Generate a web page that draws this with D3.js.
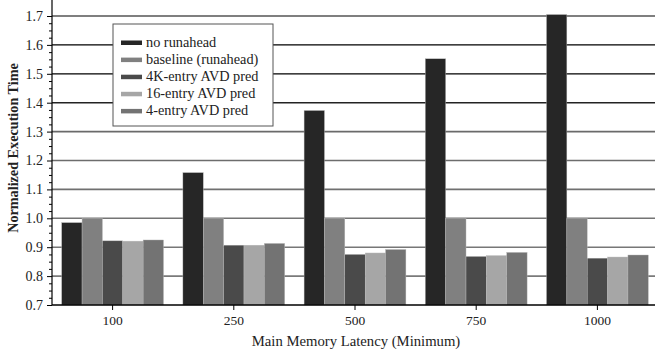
<!DOCTYPE html>
<html><head><meta charset="utf-8">
<script src="https://cdn.jsdelivr.net/npm/d3@7"></script>
<style>body{margin:0;background:#fff}</style>
</head><body><svg id="c" width="655" height="350"></svg>
<script>
const categories = ["100","250","500","750","1000"];
const seriesNames = ["no runahead","baseline (runahead)","4K-entry AVD pred","16-entry AVD pred","4-entry AVD pred"];
const noRunahead = [0.985,1.158,1.373,1.552,1.705];
const baseline = [1.0,1.0,1.0,1.0,1.0];
const avd4K = [0.922,0.907,0.875,0.868,0.862];
const avd16 = [0.921,0.907,0.880,0.871,0.866];
const avd4 = [0.925,0.913,0.892,0.882,0.873];
const yTicks = [0.7,0.8,0.9,1.0,1.1,1.2,1.3,1.4,1.5,1.6,1.7];
const colors = ["#262626","#808080","#4a4a4a","#a6a6a6","#737373"];
const series = [noRunahead, baseline, avd4K, avd16, avd4];

const svg = d3.select("#c");
const font = "'Liberation Serif', 'Times New Roman', serif";
const L = 52, R = 658, B = 305;
const x = d3.scaleBand().domain(categories).range([L, R]).paddingInner(0.16).paddingOuter(0.08);
const xs = d3.scaleBand().domain(d3.range(5)).range([0, x.bandwidth()]);
const y = d3.scaleLinear().domain([0.7, 1.7]).range([B, 16]);

// gridlines
const gcol = d3.scaleLinear().domain([0.8, 1.3, 1.45]).range(["#7a7a7a", "#6a6a6a", "#000"]);
svg.append("g").selectAll("line").data(yTicks.filter(d => d > 0.7)).join("line")
  .attr("x1", L).attr("x2", 655).attr("y1", d => y(d)).attr("y2", d => y(d))
  .attr("stroke", d => gcol(d)).attr("stroke-width", d => d > 1.45 ? 1.2 : 1.6);

// bars
const g = svg.append("g");
categories.forEach((c, i) => {
  series.forEach((s, j) => {
    g.append("rect").attr("x", x(c) + xs(j)).attr("width", xs.bandwidth())
      .attr("y", y(s[i])).attr("height", B - y(s[i]))
      .attr("fill", colors[j]).attr("stroke", "#bbb").attr("stroke-width", 0.4);
  });
});

// y axis
const yAxis = svg.append("g").attr("transform", `translate(${L},0)`)
  .call(d3.axisLeft(y).tickValues(yTicks).tickFormat(d3.format(".1f")).tickSizeOuter(0).tickSize(5));
yAxis.select(".domain").remove();
yAxis.selectAll("text").style("font-family", font).style("font-size", "14px").attr("fill", "#222").attr("x", -9);
svg.append("g").attr("transform", `translate(${L},0)`)
  .call(d3.axisLeft(y).tickValues(d3.range(0.725, 1.7, 0.025).filter(v => Math.abs(v*10 - Math.round(v*10)) > 0.01)).tickSize(3).tickFormat(""))
  .select(".domain").remove();
svg.append("line").attr("x1", L).attr("x2", L).attr("y1", 0).attr("y2", B).attr("stroke", "#000").attr("stroke-width", 1.2);

// x axis
const xAxis = svg.append("g").attr("transform", `translate(0,${B})`)
  .call(d3.axisBottom(x).tickSize(5).tickSizeOuter(0));
xAxis.select(".domain").attr("stroke-width", 1.4).attr("d", `M${L},0H655`);
xAxis.selectAll("text").style("font-family", font).style("font-size", "13.5px").attr("fill", "#222").attr("y", 10).attr("dy", "0.71em");

// titles
svg.append("text").attr("transform", "translate(18,148) rotate(-90)").attr("text-anchor", "middle")
  .style("font-family", font).style("font-weight", "bold").style("font-size", "14.2px").attr("fill", "#222")
  .text("Normalized Execution Time");
svg.append("text").attr("x", 356).attr("y", 346).attr("text-anchor", "middle")
  .style("font-family", font).style("font-size", "14.7px").attr("fill", "#222")
  .text("Main Memory Latency (Minimum)");

// legend
const lg = svg.append("g").attr("transform", "translate(113,24)");
lg.append("rect").attr("width", 160).attr("height", 102).attr("fill", "#fff").attr("stroke", "#555").attr("stroke-width", 1);
seriesNames.forEach((n, j) => {
  const cy = 18.5 + j * 17.1;
  lg.append("rect").attr("x", 8).attr("y", cy - 2).attr("width", 21).attr("height", 4.5).attr("fill", colors[j]);
  lg.append("text").attr("x", 33).attr("y", cy + 4.5).style("font-family", font).style("font-size", "14.3px").attr("fill", "#222").text(n);
});
</script></body></html>
